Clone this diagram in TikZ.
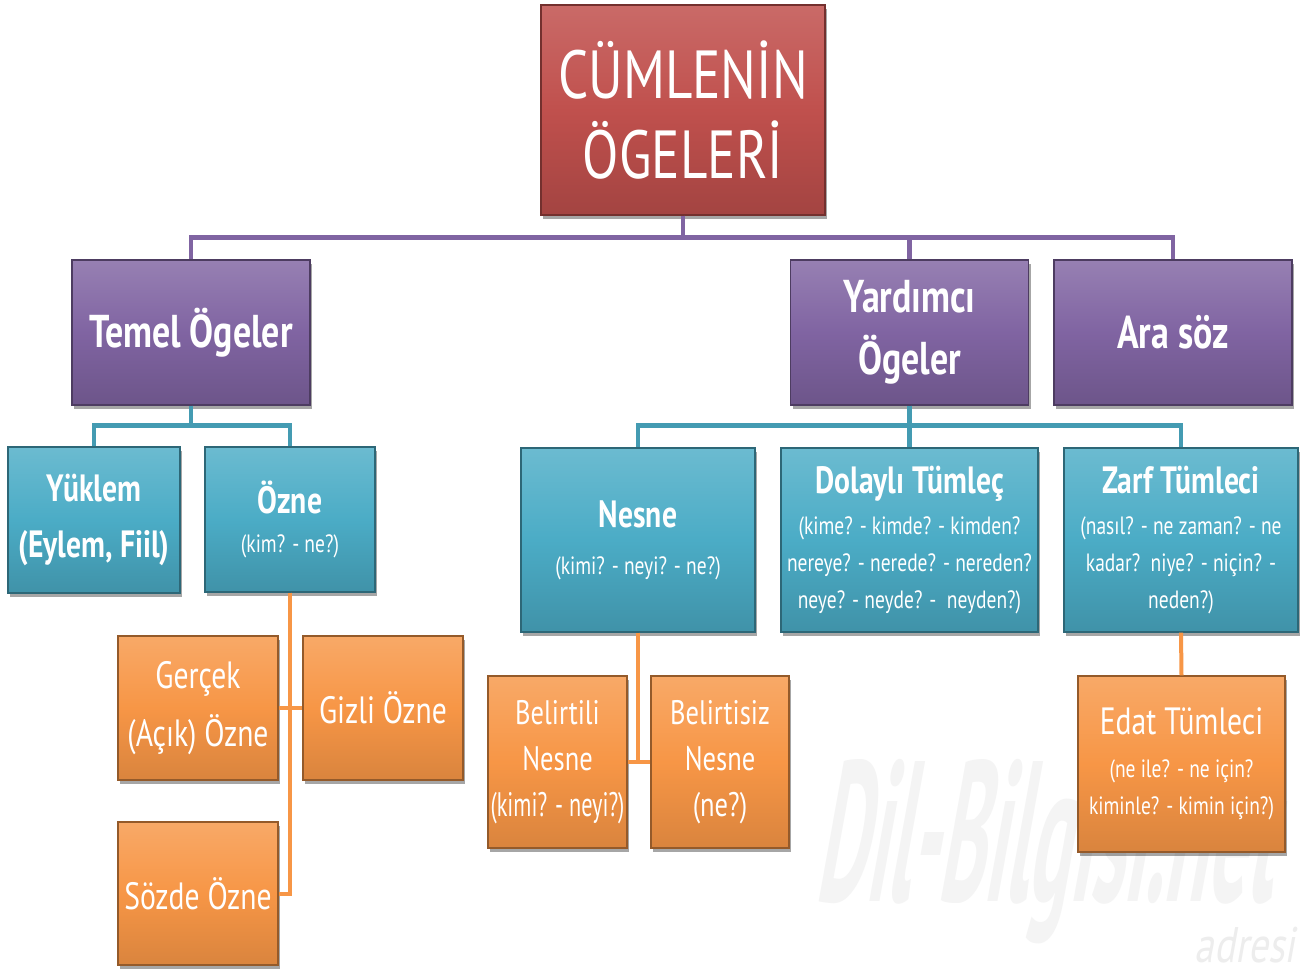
\documentclass[tikz,border=0pt]{standalone}
\usepackage{fontspec}
\usepackage{graphicx}
\setmainfont{PT Sans}[FakeStretch=0.78]
\usetikzlibrary{shadows}
\definecolor{cred}{HTML}{C0504D}
\definecolor{cpur}{HTML}{8064A2}
\definecolor{caqua}{HTML}{4BACC6}
\definecolor{corg}{HTML}{F79646}
\tikzset{
  box/.style={minimum width=#1, inner sep=0pt, align=center, text=white,
    drop shadow={shadow xshift=2pt, shadow yshift=-4pt, opacity=0.35, fill=black}},
  redbox/.style={box=284pt, minimum height=210pt, top color=cred!85!white, bottom color=cred!85!black, middle color=cred, draw=cred!60!black, line width=1.2pt},
  purbox/.style={box=238pt, minimum height=145pt, top color=cpur!82!white, bottom color=cpur!85!black, middle color=cpur, draw=cpur!60!black, line width=1.2pt},
  aquabox/.style={box=#1, minimum height=184pt, top color=caqua!82!white, bottom color=caqua!85!black, middle color=caqua, draw=caqua!60!black, line width=1.2pt},
  orgbox/.style={box=#1, minimum height=144pt, top color=corg!82!white, bottom color=corg!88!black, middle color=corg, draw=corg!60!black, line width=1.2pt},
  pline/.style={draw=cpur, line width=4.5pt},
  aline/.style={draw=caqua!90!black, line width=4.5pt},
  oline/.style={draw=corg, line width=4pt},
  tfont/.style={font=\fontsize{46}{62}\selectfont\bfseries},
  sfont/.style={font=\fontsize{25}{37}\selectfont},
  ofont/.style={font=\fontsize{38}{58}\selectfont},
}
\newcommand{\hd}[1]{{\fontsize{38}{40}\selectfont\bfseries #1}}
\newcommand{\od}[1]{{\fontsize{38}{58}\selectfont #1}}
\begin{document}
\begin{tikzpicture}[x=1pt,y=-1pt]
\useasboundingbox[fill=white] (0,0) rectangle (1315,974);
% watermark
\node[text=gray!9, font=\fontsize{200}{200}\selectfont\bfseries, transform shape, xslant=0.18, xscale=0.5] (wm) at (1052,852) {Dil-Bilgisi.net};
\node[text=gray!14, font=\fontsize{50}{50}\selectfont, transform shape, xslant=0.18] (wm2) at (1248,945) {adresi};
% nodes
\node[redbox, font=\fontsize{68}{80}\selectfont] (root) at (683,110) {CÜMLENİN\\ÖGELERİ};
\node[purbox, tfont] (temel) at (191,332.5) {Temel Ögeler};
\node[purbox, tfont] (yard) at (909.5,332.5) {Yardımcı\\Ögeler};
\node[purbox, tfont] (ara) at (1173,332.5) {Ara söz};
\node[aquabox=172pt, minimum height=146pt, font=\fontsize{38}{56}\selectfont\bfseries] (yuklem) at (94,520) {Yüklem\\(Eylem, Fiil)};
\node[aquabox=170pt, minimum height=145pt, sfont] (ozne) at (290,519.5) {\hd{Özne}\\[2pt](kim? - ne?)};
\node[orgbox=160pt, ofont] (gercek) at (198,708) {Gerçek\\(Açık) Özne};
\node[orgbox=160pt, ofont] (gizli) at (383,708) {Gizli Özne};
\node[orgbox=160pt, minimum height=143pt, ofont] (sozde) at (198,893.5) {Sözde Özne};
\node[aquabox=234pt, sfont] (nesne) at (638,540) {\hd{Nesne}\\[10pt](kimi? - neyi? - ne?)};
\node[aquabox=257pt, sfont] (dolayli) at (909.5,540) {\hd{Dolaylı Tümleç}\\[4pt](kime? - kimde? - kimden?\\nereye? - nerede? - nereden?\\neye? - neyde? -~~neyden?)};
\node[aquabox=234pt, sfont] (zarf) at (1181,540) {\hd{Zarf Tümleci}\\[4pt](nasıl? - ne zaman? - ne\\kadar?~~niye? - niçin? -\\neden?)};
\node[orgbox=139pt, minimum height=172pt, font=\fontsize{34}{46}\selectfont] (belirtili) at (557.5,762) {Belirtili\\Nesne\\\scalebox{0.84}[1]{(kimi? - neyi?)}};
\node[orgbox=138pt, minimum height=172pt, font=\fontsize{34}{46}\selectfont] (belirtisiz) at (720,762) {Belirtisiz\\Nesne\\(ne?)};
\node[orgbox=207pt, minimum height=176pt, sfont] (edat) at (1181.5,764) {\od{Edat Tümleci}\\[6pt](ne ile? - ne için?\\kiminle? - kimin için?)};
% connectors
\draw[pline] (root.south) -- ++(0,22) -| (temel.north);
\draw[pline] (root.south) -- ++(0,22) -| (yard.north);
\draw[pline] (root.south) -- ++(0,22) -| (ara.north);
\draw[aline] (temel.south) -- ++(0,20) -| (yuklem.north);
\draw[aline] (temel.south) -- ++(0,20) -| (ozne.north);
\draw[aline] (yard.south) -- ++(0,20) -| (nesne.north);
\draw[aline] (yard.south) -- ++(0,20) -| (dolayli.north);
\draw[aline] (yard.south) -- ++(0,20) -| (zarf.north);
\draw[oline] (ozne.south) |- (gercek.east);
\draw[oline] (ozne.south) |- (gizli.west);
\draw[oline] (ozne.south) |- (sozde.east);
\draw[oline] (nesne.south) |- (belirtili.east);
\draw[oline] (nesne.south) |- (belirtisiz.west);
\draw[oline] (zarf.south) -- (edat.north);
\end{tikzpicture}
\end{document}
